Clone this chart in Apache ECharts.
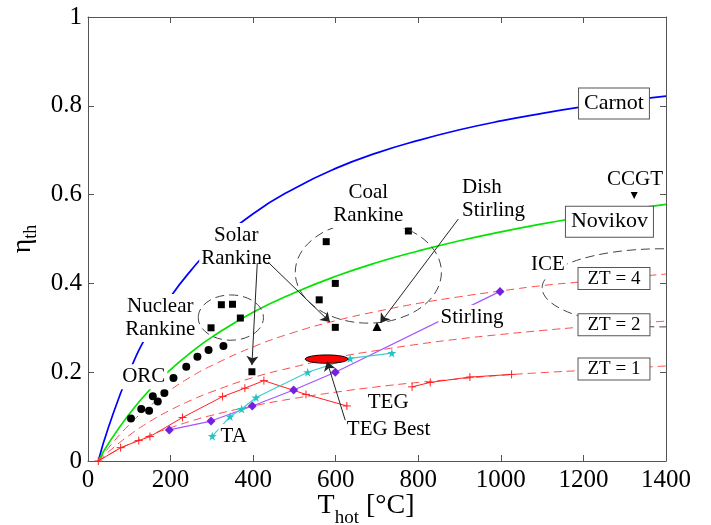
<!DOCTYPE html>
<html>
<head>
<meta charset="utf-8">
<script src="https://cdn.jsdelivr.net/npm/echarts@6/dist/echarts.min.js"></script>
<style>
  html, body { margin: 0; padding: 0; background: #fff; }
  #chart { width: 711px; height: 525px; }
</style>
</head>
<body>
<div id="chart"></div>
<script>
// hot side temperature [°C] for the model curves
const curveT = [25, 50, 100, 150, 200, 250, 300, 400, 500, 600, 700, 800, 900, 1000, 1100, 1200, 1300, 1400]
const carnotEff = [0, 0.077, 0.201, 0.296, 0.370, 0.430, 0.480, 0.557, 0.614, 0.659, 0.694, 0.722, 0.746, 0.766, 0.783, 0.798, 0.811, 0.822]
const novikovEff = [0, 0.040, 0.106, 0.161, 0.206, 0.245, 0.279, 0.335, 0.379, 0.416, 0.447, 0.473, 0.496, 0.516, 0.534, 0.550, 0.565, 0.578]
const zt4Eff = [0, 0.030, 0.082, 0.124, 0.160, 0.190, 0.215, 0.257, 0.290, 0.316, 0.337, 0.355, 0.370, 0.383, 0.395, 0.404, 0.413, 0.421]
const zt2Eff = [0, 0.021, 0.058, 0.089, 0.115, 0.137, 0.156, 0.188, 0.212, 0.233, 0.249, 0.263, 0.275, 0.285, 0.294, 0.302, 0.309, 0.315]
const zt1Eff = [0, 0.014, 0.038, 0.058, 0.075, 0.090, 0.103, 0.124, 0.141, 0.155, 0.167, 0.177, 0.185, 0.193, 0.199, 0.204, 0.209, 0.214]

// measured devices [T, eta]
const tegLow = [[25, 0], [79, 0.030], [123, 0.046], [150, 0.055], [229, 0.098], [326, 0.145], [380, 0.164], [426, 0.181], [528, 0.150], [627, 0.124]]
const tegHigh = [[785, 0.167], [829, 0.177], [925, 0.189], [1026, 0.195]]
const stirling = [[197, 0.070], [298, 0.090], [398, 0.124], [498, 0.160], [599, 0.200], [998, 0.382]]
const thermoAcoustic = [[301, 0.056], [344, 0.100], [372, 0.117], [407, 0.143], [532, 0.200], [635, 0.231], [736, 0.243]]
const orc = [[104, 0.096], [129, 0.117], [148, 0.113], [157, 0.146], [169, 0.134], [185, 0.153], [207, 0.187], [238, 0.212], [265, 0.235], [292, 0.250], [328, 0.259]]
const rankine = [[298, 0.300], [323, 0.352], [350, 0.353], [369, 0.322], [397, 0.201], [577, 0.494], [776, 0.518], [599, 0.400], [560, 0.363], [599, 0.301]]
const dishStirling = [[700, 0.303]]
const ccgt = [[1323, 0.600]]

// [centre T, centre eta, half width T, half height eta]
const groupEllipses = [[346, 0.323, 79, 0.051], [679, 0.425, 177, 0.1145], [1390, 0.39, 290, 0.088]]
const tegBest = [[578, 0.2295, 52, 0.0094]]

// [from T, from eta, to T, to eta]
const arrows = [[410, 0.446, 397, 0.216], [436, 0.448, 586, 0.313], [897, 0.545, 708, 0.311], [623, 0.092, 579, 0.224]]

const plainLabels = [
  [679, 0.579, 'Coal\nRankine'], [359, 0.482, 'Solar\nRankine'], [175, 0.322, 'Nuclear\nRankine'],
  [135, 0.190, 'ORC'], [353, 0.055, 'TA'], [727, 0.132, 'TEG'], [728, 0.070, 'TEG Best'],
  [930, 0.323, 'Stirling'], [1114, 0.443, 'ICE'], [1325, 0.634, 'CCGT']
]
const leftLabels = [[900, 0.590, 'Dish\nStirling']]
const bigBoxes = [[1274, 0.805, 'Carnot'], [1263, 0.539, 'Novikov']]
const ztBoxes = [[1274, 0.411, 'ZT = 4'], [1274, 0.307, 'ZT = 2'], [1274, 0.207, 'ZT = 1']]

const xTicks = [0, 200, 400, 600, 800, 1000, 1200, 1400]
const yTicks = [0, 0.2, 0.4, 0.6, 0.8, 1]

const serif = '"Liberation Serif", "Times New Roman", serif'
const axisGray = '#555'
const plus = 'path://M5,0L5,10M0,5L10,5'
const star = 'path://M50,0L61,35L98,35L68,57L79,91L50,70L21,91L32,57L2,35L39,35Z'

const pair = (ys) => curveT.map((t, i) => [t, ys[i]])

const chart = echarts.init(document.getElementById('chart'))

const axisBase = (ticks) => ({
  type: 'value',
  min: ticks[0],
  max: ticks[ticks.length - 1],
  interval: ticks[1] - ticks[0],
  nameMoveOverlap: false,
  axisLine: { show: true, onZero: false, lineStyle: { color: axisGray, width: 1 } },
  axisTick: { show: true, inside: true, length: 6, lineStyle: { color: axisGray } },
  splitLine: { show: false }
})

const curve = (data, color, width, type) => ({
  type: 'line',
  data,
  smooth: true,
  symbol: 'none',
  lineStyle: { color, width, type },
  z: 2
})

const dots = (data, symbol, size, rotate) => ({
  type: 'scatter',
  data,
  symbol,
  symbolSize: size,
  symbolRotate: rotate || 0,
  itemStyle: { color: '#000', opacity: 1 },
  z: 4
})

const ellipseRender = (style) => (params, api) => {
  const c = api.coord([api.value(0), api.value(1)])
  const s = api.size([api.value(2), api.value(3)])
  return {
    type: 'ellipse',
    shape: { cx: c[0], cy: c[1], rx: s[0], ry: s[1] },
    style
  }
}

const textLabels = (data, extra) => ({
  type: 'scatter',
  data,
  symbolSize: 1,
  itemStyle: { color: 'rgba(0,0,0,0)', opacity: 1 },
  silent: true,
  z: 20,
  label: Object.assign({
    show: true,
    position: 'inside',
    formatter: (p) => p.data[2],
    fontFamily: serif,
    fontSize: 21,
    lineHeight: 23,
    color: '#000',
    opacity: 1,
    textBorderWidth: 0,
    backgroundColor: '#fff',
    padding: [1, 2]
  }, extra)
})

chart.setOption({
  animation: false,
  grid: { left: 88, right: 45, top: 17, bottom: 64, containLabel: false, outerBoundsMode: 'none' },
  xAxis: [
    Object.assign(axisBase(xTicks), {
      position: 'bottom',
      axisLabel: { color: '#000', fontFamily: serif, fontSize: 25, margin: 7, formatter: (v) => String(v) },
      name: '{t|T}{s|hot}{t| [°C]}',
      nameLocation: 'middle',
      nameGap: 30,
      nameTextStyle: {
        padding: [0, 22, 0, 0],
        rich: {
          t: { fontFamily: serif, fontSize: 28, lineHeight: 30, color: '#000' },
          s: { fontFamily: serif, fontSize: 19, lineHeight: 20, color: '#000', padding: [24, 0, 0, 0] }
        }
      }
    }),
    Object.assign(axisBase(xTicks), { position: 'top', axisLabel: { show: false } })
  ],
  yAxis: [
    Object.assign(axisBase(yTicks), {
      position: 'left',
      axisLabel: { color: '#000', fontFamily: serif, fontSize: 25, margin: 6, formatter: (v) => String(v) },
      name: '{t|η}{s|th}',
      nameLocation: 'middle',
      nameRotate: 90,
      nameGap: 48,
      nameTextStyle: {
        rich: {
          t: { fontFamily: serif, fontSize: 28, color: '#000' },
          s: { fontFamily: serif, fontSize: 18, color: '#000', padding: [16, 0, 0, 0] }
        }
      }
    }),
    Object.assign(axisBase(yTicks), { position: 'right', axisLabel: { show: false } })
  ],
  series: [
    curve(pair(carnotEff), '#0000ff', 1.7, 'solid'),
    curve(pair(novikovEff), '#00e400', 1.7, 'solid'),
    curve(pair(zt4Eff), '#ff4a4a', 1, [8, 5]),
    curve(pair(zt2Eff), '#ff4a4a', 1, [8, 5]),
    curve(pair(zt1Eff), '#ff4a4a', 1, [8, 5]),
    {
      type: 'line', data: tegLow, symbol: plus, symbolSize: 8,
      itemStyle: { color: '#ff2020', borderColor: '#ff2020', borderWidth: 1 },
      lineStyle: { color: '#ff2020', width: 1 }, z: 3
    },
    {
      type: 'line', data: tegHigh, symbol: plus, symbolSize: 8,
      itemStyle: { color: '#ff2020', borderColor: '#ff2020', borderWidth: 1 },
      lineStyle: { color: '#ff2020', width: 1 }, z: 3
    },
    {
      type: 'line', data: stirling, symbol: 'diamond', symbolSize: 9,
      itemStyle: { color: '#7420e0' },
      lineStyle: { color: '#a455ff', width: 1.2 }, z: 3
    },
    {
      type: 'line', data: thermoAcoustic, symbol: star, symbolSize: 9,
      itemStyle: { color: '#22c4c4' },
      lineStyle: { color: '#44cccc', width: 1.2 }, z: 3
    },
    dots(orc, 'circle', 8),
    dots(rankine, 'rect', 7),
    dots(dishStirling, 'triangle', 9),
    dots(ccgt, 'triangle', 9, 180),
    {
      type: 'custom', data: groupEllipses, clip: true, silent: true, z: 5,
      encode: { x: 0, y: 1 },
      renderItem: ellipseRender({ fill: 'none', stroke: '#444', lineWidth: 1, lineDash: [9, 5] })
    },
    {
      type: 'custom', data: tegBest, silent: true, z: 6,
      encode: { x: 0, y: 1 },
      renderItem: ellipseRender({ fill: '#ff0000', stroke: '#000', lineWidth: 1 })
    },
    textLabels(plainLabels, {}),
    textLabels(leftLabels, { position: 'right', distance: 0, align: 'left' }),
    textLabels(bigBoxes, { fontSize: 22, lineHeight: 24, borderColor: axisGray, borderWidth: 1, padding: [3, 5] }),
    textLabels(ztBoxes, { fontSize: 19, lineHeight: 19, borderColor: axisGray, borderWidth: 1, padding: [1, 9] }),
    {
      type: 'lines',
      coordinateSystem: 'cartesian2d',
      data: arrows.map((a) => ({ coords: [[a[0], a[1]], [a[2], a[3]]] })),
      symbol: ['none', 'arrow'],
      symbolSize: 9,
      lineStyle: { color: '#222', width: 1, opacity: 1 },
      silent: true,
      z: 30
    }
  ]
})
</script>
</body>
</html>
